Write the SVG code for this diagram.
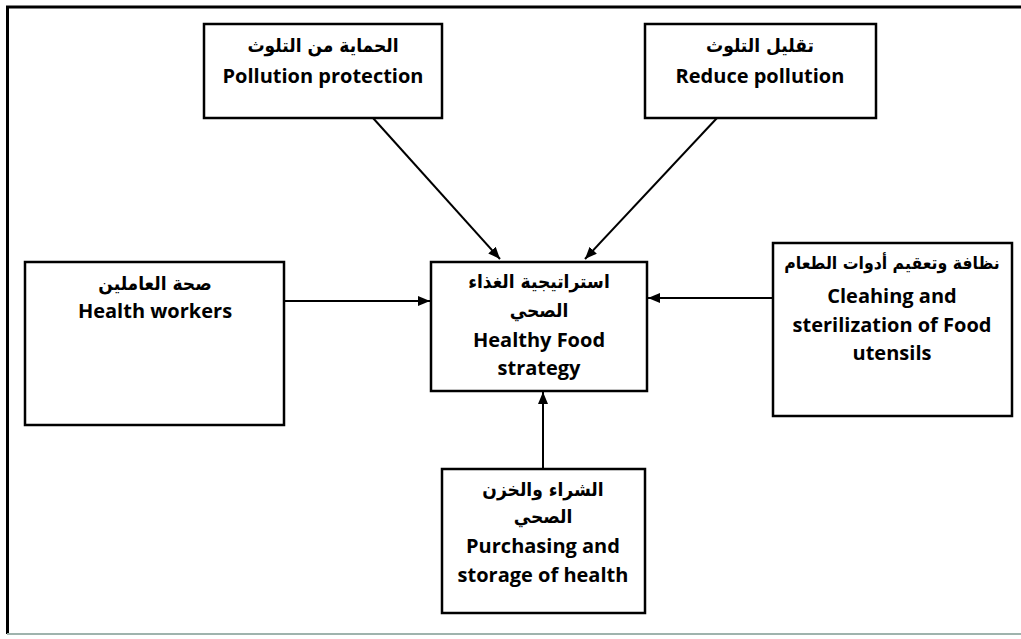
<svg xmlns="http://www.w3.org/2000/svg" width="1021" height="639" viewBox="0 0 1021 639">
<style>
.box{fill:#fff;stroke:#000;stroke-width:2.5}
.en{font-family:"Open Sans","Liberation Sans",sans-serif;font-weight:bold;font-size:20px;fill:#000;text-anchor:middle}
.ar{font-family:"DejaVu Sans Condensed","DejaVu Sans",sans-serif;font-weight:bold;font-size:19px;fill:#000;text-anchor:middle}
.con{stroke:#000;stroke-width:2;fill:none;marker-end:url(#ah)}
</style>
<defs>
<marker id="ah" viewBox="0 0 12 10" refX="12" refY="5" markerWidth="12" markerHeight="10" markerUnits="userSpaceOnUse" orient="auto">
<path d="M0,0 L12,5 L0,10 Z" fill="#000"/>
</marker>
</defs>
<rect x="0" y="0" width="1021" height="639" fill="#fff"/>
<g id="frame">
<path d="M7.5,634 L7.5,7 L1021,7" fill="none" stroke="#000" stroke-width="3"/>
<line x1="7" y1="634" x2="1021" y2="634" stroke="#9fb3ad" stroke-width="2"/>
</g>
<g id="connectors">
<line class="con" x1="373" y1="118" x2="500" y2="259"/>
<line class="con" x1="717" y1="118" x2="585" y2="259"/>
<line class="con" x1="284" y1="301" x2="430" y2="301"/>
<line class="con" x1="773" y1="298" x2="648" y2="298"/>
<line class="con" x1="543" y1="469" x2="543" y2="392"/>
</g>
<g id="n-protection">
<rect class="box" x="204" y="24" width="238" height="94"/>
<text class="ar" x="323" y="52" direction="rtl">الحماية من التلوث</text>
<text class="en" x="323" y="83">Pollution protection</text>
</g>
<g id="n-reduce">
<rect class="box" x="645" y="24" width="231" height="94"/>
<text class="ar" x="760" y="52" direction="rtl">تقليل التلوث</text>
<text class="en" x="760" y="83">Reduce pollution</text>
</g>
<g id="n-workers">
<rect class="box" x="25" y="262" width="259" height="163"/>
<text class="ar" x="155" y="290" direction="rtl">صحة العاملين</text>
<text class="en" x="155" y="318">Health workers</text>
</g>
<g id="n-center">
<rect class="box" x="431" y="262" width="216" height="129"/>
<text class="ar" x="539" y="288" direction="rtl">استراتيجية الغذاء</text>
<text class="ar" x="539" y="317" direction="rtl">الصحي</text>
<text class="en" x="539" y="347">Healthy Food</text>
<text class="en" x="539" y="375">strategy</text>
</g>
<g id="n-cleaning">
<rect class="box" x="773" y="243" width="239" height="173"/>
<text class="ar" x="892" y="269" direction="rtl" style="font-size:17.5px">نظافة وتعقيم أدوات الطعام</text>
<text class="en" x="892" y="303">Cleahing and</text>
<text class="en" x="892" y="332">sterilization of Food</text>
<text class="en" x="892" y="360">utensils</text>
</g>
<g id="n-purchasing">
<rect class="box" x="442" y="469" width="203" height="144"/>
<text class="ar" x="543" y="496" direction="rtl">الشراء والخزن</text>
<text class="ar" x="543" y="523" direction="rtl">الصحي</text>
<text class="en" x="543" y="553">Purchasing and</text>
<text class="en" x="543" y="582">storage of health</text>
</g>
</svg>
